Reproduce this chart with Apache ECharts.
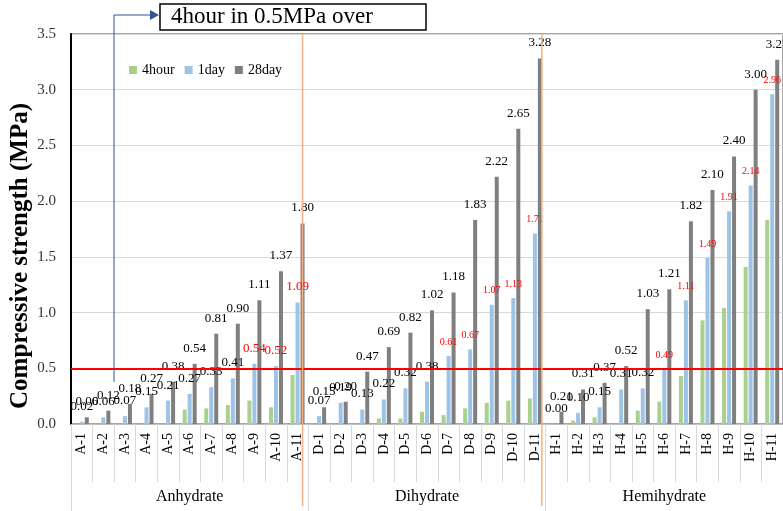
<!DOCTYPE html>
<html>
<head>
<meta charset="utf-8">
<title>Compressive strength</title>
<script src="https://cdn.jsdelivr.net/npm/echarts@6/dist/echarts.min.js"></script>
<style>
	html, body { margin: 0; padding: 0; background: #fff; }
	#chart { width: 783px; height: 511px; }
</style>
</head>
<body>
<div id="chart"></div>
<script>
// categories
var categories = ['A-1','A-2','A-3','A-4','A-5','A-6','A-7','A-8','A-9','A-10','A-11',
	'D-1','D-2','D-3','D-4','D-5','D-6','D-7','D-8','D-9','D-10','D-11',
	'H-1','H-2','H-3','H-4','H-5','H-6','H-7','H-8','H-9','H-10','H-11'];
var groups = ['Anhydrate', 'Dihydrate', 'Hemihydrate'];

// compressive strength (MPa)
var hour4 = [0, 0, 0, 0, 0, 0.13, 0.14, 0.17, 0.21, 0.15, 0.44,
	0, 0, 0, 0.05, 0.05, 0.11, 0.08, 0.14, 0.19, 0.21, 0.23,
	0, 0.03, 0.06, 0, 0.12, 0.20, 0.43, 0.93, 1.04, 1.41, 1.83];
var day1 = [0.02, 0.06, 0.07, 0.15, 0.21, 0.27, 0.33, 0.41, 0.54, 0.52, 1.09,
	0.07, 0.19, 0.13, 0.22, 0.32, 0.38, 0.61, 0.67, 1.07, 1.13, 1.71,
	0.00, 0.10, 0.15, 0.31, 0.32, 0.49, 1.11, 1.49, 1.91, 2.14, 2.96];
var day28 = [0.06, 0.12, 0.18, 0.27, 0.38, 0.54, 0.81, 0.90, 1.11, 1.37, 1.80,
	0.15, 0.20, 0.47, 0.69, 0.82, 1.02, 1.18, 1.83, 2.22, 2.65, 3.28,
	0.11, 0.31, 0.37, 0.52, 1.03, 1.21, 1.82, 2.10, 2.40, 3.00, 3.27];

// 1day label colour: 0 black, 1 small red, 2 red
var day1Red = [0, 0, 0, 0, 0, 0, 0, 0, 2, 2, 2,
	0, 0, 0, 0, 0, 0, 1, 1, 1, 1, 1,
	0, 0, 0, 0, 0, 1, 1, 1, 1, 1, 1];
// label text as printed on the original where it differs from the bar
var day28LabelFix = { 22: '0.21' };

var serif = '"Liberation Serif", "Times New Roman", serif';

var chart = echarts.init(document.getElementById('chart'));

var day1Data = day1.map(function (v, i) {
	var item = { value: v };
	if (day1Red[i] > 0) {
		item.label = { color: '#ff0000', fontSize: day1Red[i] == 1 ? 10 : 13 };
	}
	return item;
});

var option = {
	animation: false,
	grid: {
		left: 71, top: 34, right: -1, bottom: 87,
		show: true, borderColor: '#a6a6a6', borderWidth: 2
	},
	legend: {
		left: 124, top: 58,
		itemWidth: 8, itemHeight: 8, itemGap: 10,
		icon: 'rect',
		textStyle: { fontFamily: serif, fontSize: 14, color: '#000' },
		data: ['4hour', '1day', '28day']
	},
	xAxis: [
		{
			type: 'category',
			data: categories,
			axisLine: { lineStyle: { color: '#bfbfbf' } },
			axisTick: { show: true, length: 58, lineStyle: { color: '#d9d9d9' } },
			axisLabel: { interval: 0, rotate: 90, margin: 9, fontFamily: serif, fontSize: 14, color: '#000' },
			splitLine: { show: false }
		},
		{
			type: 'category',
			data: groups,
			position: 'bottom',
			axisLine: { show: false },
			axisTick: { show: true, length: 87, lineStyle: { color: '#d9d9d9' } },
			axisLabel: { interval: 0, margin: 65, fontFamily: serif, fontSize: 16, color: '#000' },
			splitLine: { show: false }
		}
	],
	yAxis: {
		type: 'value',
		min: 0, max: 3.5, interval: 0.5,
		axisLine: { show: true, lineStyle: { color: '#000', width: 2 } },
		axisTick: { show: false },
		splitLine: { lineStyle: { color: '#d9d9d9' } },
		axisLabel: {
			margin: 15, fontFamily: serif, fontSize: 15, color: '#333',
			formatter: function (v) { return v.toFixed(1); }
		}
	},
	series: [
		{
			name: '4hour',
			type: 'bar',
			barWidth: 4,
			barGap: '25%',
			data: hour4,
			itemStyle: { color: '#a9d18e' }
		},
		{
			name: '1day',
			type: 'bar',
			barWidth: 4,
			barGap: '25%',
			data: day1Data,
			itemStyle: { color: '#9dc3e6' },
			label: {
				show: true, position: 'top', distance: 9,
				fontFamily: serif, fontSize: 13, color: '#000',
				formatter: function (p) { return day1[p.dataIndex].toFixed(2); }
			}
		},
		{
			name: '28day',
			type: 'bar',
			barWidth: 4,
			barGap: '25%',
			data: day28,
			itemStyle: { color: '#7f7f7f' },
			label: {
				show: true, position: 'top', distance: 9,
				fontFamily: serif, fontSize: 13, color: '#000',
				formatter: function (p) {
					return day28LabelFix[p.dataIndex] || day28[p.dataIndex].toFixed(2);
				}
			},
			markLine: {
				silent: true,
				symbol: ['none', 'none'],
				label: { show: false },
				lineStyle: { color: '#ff0000', width: 2, type: 'solid' },
				data: [{ yAxis: 0.5 }]
			}
		}
	]
};
chart.setOption(option);

// annotation lines, box and axis title
var xA = chart.convertToPixel({ xAxisIndex: 0 }, 'A-11') + 5;
var xD = chart.convertToPixel({ xAxisIndex: 0 }, 'D-11') + 7;
var orange = '#f4b183';
var arrowColor = '#2f5597';

chart.setOption({
	graphic: [
		{ type: 'line', shape: { x1: xA, y1: 34, x2: xA, y2: 506 }, style: { stroke: orange, lineWidth: 1.5 }, z: 100 },
		{ type: 'line', shape: { x1: xD, y1: 34, x2: xD, y2: 506 }, style: { stroke: orange, lineWidth: 1.5 }, z: 100 },
		{ type: 'polyline', shape: { points: [[114, 382], [114, 15], [151, 15]] }, style: { stroke: arrowColor, lineWidth: 1, fill: null }, z: 100 },
		{ type: 'polygon', shape: { points: [[150, 10], [159, 15], [150, 20]] }, style: { fill: arrowColor }, z: 100 },
		{ type: 'rect', shape: { x: 160, y: 4, width: 266, height: 26 }, style: { fill: '#fff', stroke: '#000', lineWidth: 1.5 }, z: 100 },
		{
			type: 'text', x: 272, y: 17, z: 101,
			style: { text: '4hour in 0.5MPa over', font: '23px ' + serif, fill: '#000', textAlign: 'center', textVerticalAlign: 'middle' }
		},
		{
			type: 'text', x: 21, y: 256, rotation: Math.PI / 2, z: 101,
			style: { text: 'Compressive strength (MPa)', font: 'bold 25px ' + serif, fill: '#000', textAlign: 'center', textVerticalAlign: 'middle' }
		}
	]
});
</script>
</body>
</html>
